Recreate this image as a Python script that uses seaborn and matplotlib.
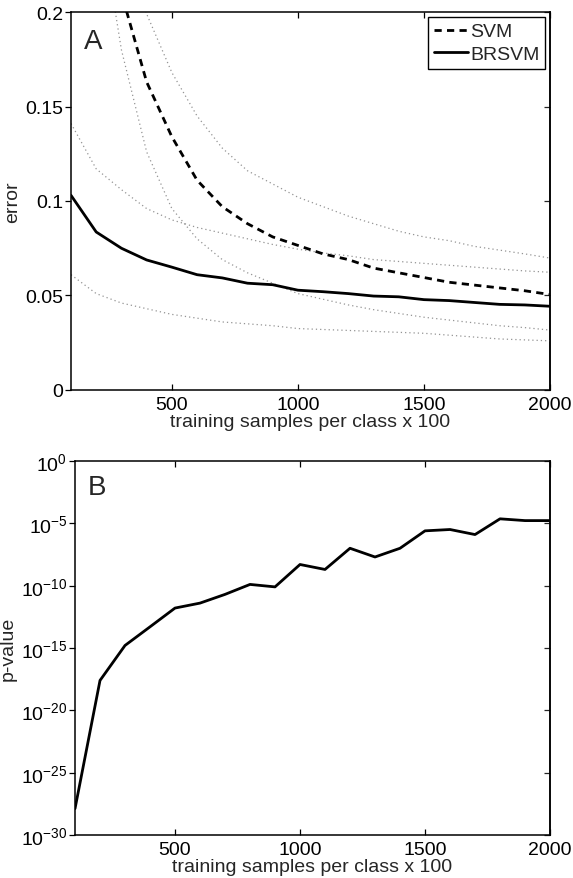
import matplotlib
matplotlib.use("Agg")
import matplotlib.pyplot as plt
import seaborn as sns
import numpy as np

# ---------------- data ----------------
samples = [100, 200, 300, 400, 500, 600, 700, 800, 900, 1000,
           1100, 1200, 1300, 1400, 1500, 1600, 1700, 1800, 1900, 2000]

svm_err = [0.33, 0.25, 0.21, 0.163, 0.134, 0.111, 0.097, 0.088, 0.081, 0.0765,
           0.072, 0.069, 0.0645, 0.062, 0.0595, 0.057, 0.0555, 0.054, 0.0525, 0.0505]
svm_upper = [0.40, 0.31, 0.24, 0.199, 0.168, 0.145, 0.128, 0.116, 0.109, 0.102,
             0.097, 0.092, 0.088, 0.084, 0.081, 0.079, 0.076, 0.074, 0.072, 0.0698]
svm_lower = [0.30, 0.263, 0.18, 0.126, 0.096, 0.080, 0.069, 0.062, 0.0565, 0.051,
             0.048, 0.045, 0.0425, 0.0405, 0.0385, 0.037, 0.0355, 0.034, 0.033, 0.0317]

brsvm_err = [0.103, 0.0836, 0.075, 0.0688, 0.065, 0.061, 0.0593, 0.0565, 0.0557, 0.0528,
             0.052, 0.051, 0.0497, 0.0493, 0.0478, 0.0473, 0.0463, 0.0453, 0.045, 0.0443]
brsvm_upper = [0.141, 0.117, 0.106, 0.096, 0.090, 0.086, 0.083, 0.080, 0.077, 0.0745,
               0.0725, 0.071, 0.069, 0.068, 0.067, 0.066, 0.065, 0.064, 0.063, 0.0623]
brsvm_lower = [0.061, 0.051, 0.046, 0.043, 0.040, 0.038, 0.036, 0.035, 0.034, 0.0325,
               0.032, 0.0315, 0.031, 0.0305, 0.030, 0.029, 0.028, 0.027, 0.0265, 0.026]

p_values = [1.3e-28, 2.5e-18, 1.6e-15, 5.0e-14, 1.6e-12, 4.0e-12, 2.0e-11, 1.26e-10, 8.0e-11, 5.0e-09,
            2.0e-09, 1.0e-07, 2.0e-08, 1.0e-07, 2.5e-06, 3.2e-06, 1.26e-06, 2.3e-05, 1.66e-05, 1.66e-05]

x_ticks = [500, 1000, 1500, 2000]
err_ticks = [0, 0.05, 0.1, 0.15, 0.2]
err_tick_labels = ["0", "0.05", "0.1", "0.15", "0.2"]
p_ticks = [1e-30, 1e-25, 1e-20, 1e-15, 1e-10, 1e-5, 1e0]
p_tick_labels = ["$10^{-30}$", "$10^{-25}$", "$10^{-20}$", "$10^{-15}$",
                 "$10^{-10}$", "$10^{-5}$", "$10^{0}$"]
xlabel = "training samples per class x 100"

# ---------------- style ----------------
sns.set_style("white")
plt.rcParams["font.family"] = ["Liberation Sans", "DejaVu Sans"]
plt.rcParams["mathtext.default"] = "regular"
plt.rcParams["axes.linewidth"] = 1.1
plt.rcParams["axes.edgecolor"] = "black"
FS = 14

fig = plt.figure(figsize=(5.73, 8.79), dpi=100)
axA = fig.add_axes([0.1239, 0.5552, 0.8360, 0.4300])
axB = fig.add_axes([0.1309, 0.0489, 0.8290, 0.4255])

def style_axes(ax):
    ax.tick_params(axis="x", which="both", direction="in", length=4, width=0.9,
                   top=True, bottom=True, labelsize=FS, pad=4, colors="black")
    ax.tick_params(axis="y", which="both", direction="out", length=4, width=0.9,
                   left=True, right=False, labelsize=FS, pad=1.5, colors="black")
    for s in ax.spines.values():
        s.set_visible(True)
        s.set_color("black")
        s.set_linewidth(1.1)

dot_kw = dict(color="0.58", linewidth=0.9, linestyle=(0, (1, 2.4)))

# ---------------- panel A ----------------
for band in (svm_upper, svm_lower, brsvm_upper, brsvm_lower):
    sns.lineplot(x=samples, y=band, ax=axA, **dot_kw)
sns.lineplot(x=samples, y=svm_err, ax=axA, color="black", linewidth=2.0,
             linestyle=(0, (2.6, 1.9)), label="SVM")
sns.lineplot(x=samples, y=brsvm_err, ax=axA, color="black", linewidth=2.0,
             linestyle="-", label="BRSVM")
axA.set_xlim(100, 2000)
axA.set_ylim(0, 0.2)
axA.set_xticks(x_ticks)
axA.set_yticks(err_ticks)
axA.set_yticklabels(err_tick_labels)
axA.set_xlabel(xlabel, fontsize=FS, labelpad=0.5)
axA.set_ylabel("error", fontsize=FS, labelpad=3)
style_axes(axA)
axA.yaxis.set_ticks_position("left")
axA2 = axA.secondary_yaxis("right")
axA2.set_yticks(err_ticks)
axA2.tick_params(direction="in", length=4, width=0.9, labelright=False)
axA.text(0.026, 0.923, "A", transform=axA.transAxes, fontsize=20,
         ha="left", va="center")
leg = axA.legend(loc="upper right", fontsize=FS, frameon=True, fancybox=False,
                 edgecolor="black", framealpha=1, borderpad=0.3, labelspacing=0.25,
                 handlelength=1.75, handletextpad=0.1, borderaxespad=0.25)
leg.get_frame().set_linewidth(1.0)

# ---------------- panel B ----------------
sns.lineplot(x=samples, y=p_values, ax=axB, color="black", linewidth=2.0)
axB.set_yscale("log")
axB.set_xlim(100, 2000)
axB.set_ylim(1e-30, 1)
axB.set_xticks(x_ticks)
axB.set_yticks(p_ticks)
axB.set_yticklabels(p_tick_labels)
axB.minorticks_off()
axB.set_xlabel(xlabel, fontsize=FS, labelpad=0.5)
axB.set_ylabel("p-value", fontsize=FS, labelpad=3)
style_axes(axB)
axB2 = axB.secondary_yaxis("right", functions=(lambda v: v, lambda v: v))
axB2.set_yscale("log")
axB2.set_yticks(p_ticks)
axB2.minorticks_off()
axB2.tick_params(direction="in", length=4, width=0.9, labelright=False, which="both")
axB.text(0.027, 0.931, "B", transform=axB.transAxes, fontsize=20,
         ha="left", va="center")

fig.savefig("out.png", dpi=100)
